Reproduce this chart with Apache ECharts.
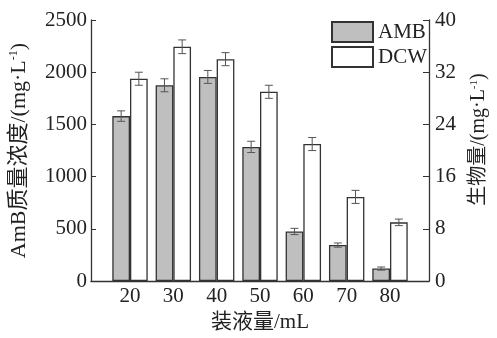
<!DOCTYPE html>
<html>
<head>
<meta charset="utf-8">
<script src="https://cdn.jsdelivr.net/npm/echarts@6/dist/echarts.min.js"></script>
<style>
  html, body { margin: 0; padding: 0; background: #fff; }
  #chart { width: 497px; height: 338px; }
</style>
</head>
<body>
<div id="chart"></div>
<script>
// 装液量 (mL)
const volumes = [20, 30, 40, 50, 60, 70, 80];
// AmB 质量浓度 (mg/L) 与误差
const ambValues = [1580, 1875, 1955, 1285, 475, 345, 120];
const ambErrors = [50, 62, 62, 54, 30, 20, 15];
// 生物量 DCW (mg/L) 与误差
const dcwValues = [31.0, 35.9, 34.0, 29.0, 21.0, 12.9, 9.0];
const dcwErrors = [1.0, 1.05, 1.0, 1.0, 1.0, 1.0, 0.5];

const leftTicks = { min: 0, max: 2500, interval: 500 };
const rightTicks = { min: 0, max: 40, interval: 8 };

const serif = "'Liberation Serif', 'Noto Sans CJK SC', serif";
const barW = 17.7;

const errorSeries = (values, errors, axisIndex, shift) => ({
  type: 'custom',
  yAxisIndex: axisIndex,
  z: 5,
  silent: true,
  data: volumes.map((v, i) => [v, values[i], errors[i]]),
  renderItem: (params, api) => {
    const x = api.value(0);
    const y = api.value(1);
    const e = api.value(2);
    const hi = api.coord([x, y + e]);
    const lo = api.coord([x, y - e]);
    const cx = hi[0] + shift;
    const cap = 4;
    const style = { stroke: '#555', lineWidth: 1 };
    return {
      type: 'group',
      children: [
        { type: 'line', shape: { x1: cx, y1: hi[1], x2: cx, y2: lo[1] }, style },
        { type: 'line', shape: { x1: cx - cap, y1: hi[1], x2: cx + cap, y2: hi[1] }, style },
        { type: 'line', shape: { x1: cx - cap, y1: lo[1], x2: cx + cap, y2: lo[1] }, style }
      ]
    };
  }
});

const chart = echarts.init(document.getElementById('chart'));

chart.setOption({
  animation: false,
  textStyle: { fontFamily: serif },
  grid: { left: 90.5, right: 62, top: 20, bottom: 55 },
  legend: {
    orient: 'vertical',
    left: 331,
    top: 21,
    padding: 0,
    itemWidth: 41,
    itemHeight: 20,
    itemGap: 3,
    icon: 'rect',
    textStyle: { fontFamily: serif, fontSize: 21, color: '#222' },
    data: ['AMB', 'DCW']
  },
  xAxis: {
    type: 'value',
    min: 11,
    max: 89,
    interval: 1,
    splitLine: { show: false },
    axisTick: { show: false },
    axisLine: { lineStyle: { color: '#333', width: 1.3 } },
    axisLabel: {
      fontFamily: serif,
      fontSize: 21,
      color: '#222',
      margin: 5,
      showMinLabel: false,
      showMaxLabel: false,
      formatter: (v) => (volumes.includes(v) ? String(v) : '')
    },
    name: '装液量/mL',
    nameLocation: 'middle',
    nameGap: 27,
    nameTextStyle: { fontFamily: serif, fontSize: 21, color: '#222' }
  },
  yAxis: [
    {
      type: 'value',
      position: 'left',
      min: leftTicks.min,
      max: leftTicks.max,
      interval: leftTicks.interval,
      splitLine: { show: false },
      axisLine: { show: true, lineStyle: { color: '#333', width: 1.3 } },
      axisTick: { show: true, inside: true, length: 5, lineStyle: { color: '#333' } },
      axisLabel: { fontFamily: serif, fontSize: 21, color: '#222', margin: 4, formatter: (v) => String(v) },
      name: 'AmB质量浓度/(mg·L{sup|-1})',
      nameLocation: 'middle',
      nameGap: 61,
      nameTextStyle: {
        fontFamily: serif, fontSize: 22, color: '#222',
        rich: { sup: { fontFamily: serif, fontSize: 12, verticalAlign: 'top', padding: [0, 0, 9, 0] } }
      }
    },
    {
      type: 'value',
      position: 'right',
      min: rightTicks.min,
      max: rightTicks.max,
      interval: rightTicks.interval,
      splitLine: { show: false },
      axisLine: { show: true, lineStyle: { color: '#333', width: 1.3 } },
      axisTick: { show: true, inside: true, length: 6, lineStyle: { color: '#333' } },
      axisLabel: { fontFamily: serif, fontSize: 21, color: '#222', margin: 6 },
      name: '生物量/(mg·L{sup|-1})',
      nameLocation: 'middle',
      nameRotate: 90,
      nameGap: 40,
      nameTextStyle: {
        fontFamily: serif, fontSize: 20, color: '#222',
        padding: [0, 0, 0, 22],
        rich: { sup: { fontFamily: serif, fontSize: 11, verticalAlign: 'top', padding: [0, 0, 8, 0] } }
      }
    }
  ],
  series: [
    {
      name: 'AMB',
      type: 'bar',
      yAxisIndex: 0,
      barWidth: barW,
      barGap: '0%',
      itemStyle: { color: '#bfbfbf', borderColor: '#333', borderWidth: 1.3 },
      data: volumes.map((v, i) => [v, ambValues[i]])
    },
    {
      name: 'DCW',
      type: 'bar',
      yAxisIndex: 1,
      barWidth: barW,
      barGap: '0%',
      itemStyle: { color: '#ffffff', borderColor: '#333', borderWidth: 1.3 },
      data: volumes.map((v, i) => [v, dcwValues[i]])
    },
    errorSeries(ambValues, ambErrors, 0, -barW / 2),
    errorSeries(dcwValues, dcwErrors, 1, barW / 2)
  ]
});
</script>
</body>
</html>
